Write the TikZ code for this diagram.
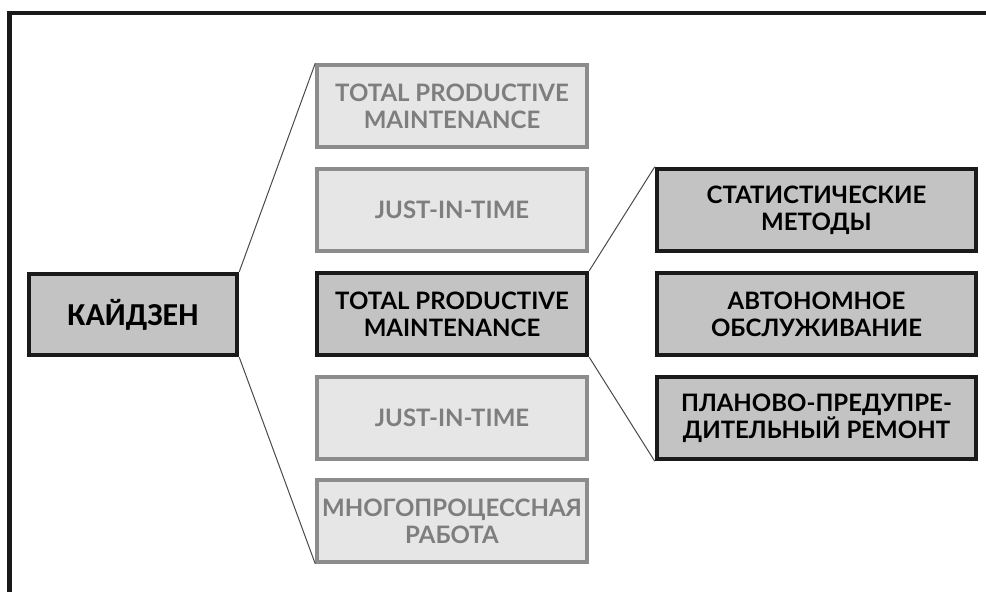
\documentclass[tikz,border=0pt]{standalone}
\usepackage{fontspec}
\setmainfont{Lato}
\newfontfamily\kaifont{Carlito}
\definecolor{lightfill}{HTML}{E6E6E6}
\definecolor{lightdraw}{HTML}{8C8C8C}
\definecolor{lighttext}{HTML}{7E7E7E}
\definecolor{darkfill}{HTML}{C3C3C3}
\definecolor{darkdraw}{HTML}{1A1A1A}
\definecolor{linkcol}{HTML}{4A4A4A}
\tikzset{
  basebox/.style={rectangle, align=center, inner sep=0pt, font=\bfseries\fontsize{24}{27}\selectfont},
  lightbox/.style={basebox, fill=lightfill, draw=lightdraw, line width=3.5pt, text=lighttext, minimum width=270pt, minimum height=82pt},
  darkbox/.style={basebox, fill=darkfill, draw=darkdraw, line width=4.5pt, text=black, minimum height=82pt},
  link/.style={draw=linkcol, line width=1pt},
}
\begin{document}
\begin{tikzpicture}[x=1pt,y=-1pt]
\useasboundingbox (0,0) rectangle (986,592);
\fill[white] (0,0) rectangle (986,592);
% frame
\draw[line width=4.5pt, black!90] (986,13) -- (9.5,13) -- (9.5,592);
% root
\node[darkbox, minimum width=208pt, minimum height=81pt, font=\kaifont\bfseries\fontsize{32}{36}\selectfont] (kai) at (133,314.5) {КАЙДЗЕН};
% middle column
\node[lightbox] (m1) at (452,106) {TOTAL PRODUCTIVE\\MAINTENANCE};
\node[lightbox] (m2) at (452,210) {JUST-IN-TIME};
\node[darkbox, minimum width=270pt] (m3) at (452,314) {TOTAL PRODUCTIVE\\MAINTENANCE};
\node[lightbox] (m4) at (452,418) {JUST-IN-TIME};
\node[lightbox] (m5) at (452,521) {МНОГОПРОЦЕССНАЯ\\РАБОТА};
% right column
\node[darkbox, minimum width=319pt] (r1) at (816.5,210) {СТАТИСТИЧЕСКИЕ\\МЕТОДЫ};
\node[darkbox, minimum width=319pt] (r2) at (816.5,314) {АВТОНОМНОЕ\\ОБСЛУЖИВАНИЕ};
\node[darkbox, minimum width=319pt] (r3) at (816.5,418) {ПЛАНОВО-ПРЕДУПРЕ-\\ДИТЕЛЬНЫЙ РЕМОНТ};
% connectors
\draw[link] (kai.north east) -- (m1.north west);
\draw[link] (kai.south east) -- (m5.south west);
\draw[link] (m3.north east) -- (r1.north west);
\draw[link] (m3.south east) -- (r3.south west);
\end{tikzpicture}
\end{document}
